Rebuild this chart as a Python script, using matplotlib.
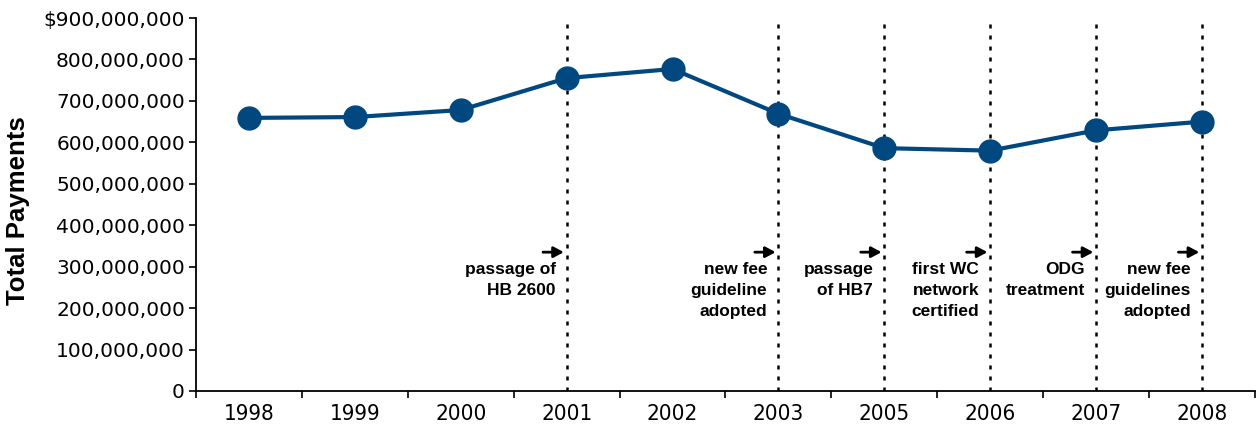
import numpy as np
import matplotlib.pyplot as plt
from matplotlib.ticker import FixedLocator, FuncFormatter

years = ['1998', '1999', '2000', '2001', '2002', '2003', '2005', '2006', '2007', '2008']
payments = [659e6, 661e6, 678e6, 755e6, 777e6, 669e6, 586e6, 580e6, 629e6, 650e6]

event_years = ['2001', '2003', '2005', '2006', '2007', '2008']
event_labels = ['passage of\nHB 2600', 'new fee\nguideline\nadopted', 'passage\nof HB7',
                'first WC\nnetwork\ncertified', 'ODG\ntreatment', 'new fee\nguidelines\nadopted']
event_level = 335e6

blue = '#00487f'

fig = plt.figure(figsize=(12.58, 4.25), dpi=100)
ax = fig.add_axes([0.1558, 0.08, 0.8418, 0.8776])

x = np.arange(len(years))
ax.plot(x, payments, color=blue, lw=3, marker='o', markersize=16.5, zorder=3)

for yr, lab in zip(event_years, event_labels):
    xi = years.index(yr)
    ax.axvline(xi, color='black', lw=1.8, linestyle=(0, (1.6, 2.8)), zorder=1)
    ax.annotate('', xy=(xi, event_level), xycoords='data',
                xytext=(-17, 0), textcoords='offset points',
                arrowprops=dict(arrowstyle='-|>,head_length=0.6,head_width=0.32',
                                color='black', lw=2, shrinkA=0, shrinkB=2))
    ax.annotate(lab, xy=(xi, event_level), xycoords='data',
                xytext=(-8, -7), textcoords='offset points',
                ha='right', va='top', fontsize=12.5, fontweight='bold',
                family=['Liberation Sans', 'DejaVu Sans'], linespacing=1.5)

ax.set_xlim(-0.5, len(years) - 0.5)
ax.set_ylim(0, 900e6)

ax.set_xticks(x)
ax.set_xticklabels(years, fontsize=16, family=['DejaVu Sans'], fontstretch='condensed')
ax.xaxis.set_minor_locator(FixedLocator(np.arange(-0.5, len(years), 1)))
ax.tick_params(axis='x', which='major', length=0, pad=9)
ax.tick_params(axis='x', which='minor', length=5, width=1.2, direction='out')

ax.set_yticks(np.arange(0, 900e6 + 1, 100e6))
ax.yaxis.set_major_formatter(FuncFormatter(
    lambda v, p: ('$' if v == 900e6 else '') + f'{int(v):,}'))
ax.tick_params(axis='y', length=5, width=1.2, pad=3, labelsize=14.5)
for t in ax.get_yticklabels():
    t.set_family(['DejaVu Sans'])

fig.text(0.014, 0.505, 'Total Payments', rotation=90, ha='center', va='center',
         fontsize=18.5, fontweight='bold', family=['Liberation Sans', 'DejaVu Sans'])

for s in ['top', 'right']:
    ax.spines[s].set_visible(False)
for s in ['left', 'bottom']:
    ax.spines[s].set_linewidth(1.3)

fig.savefig('out.png', dpi=100)
